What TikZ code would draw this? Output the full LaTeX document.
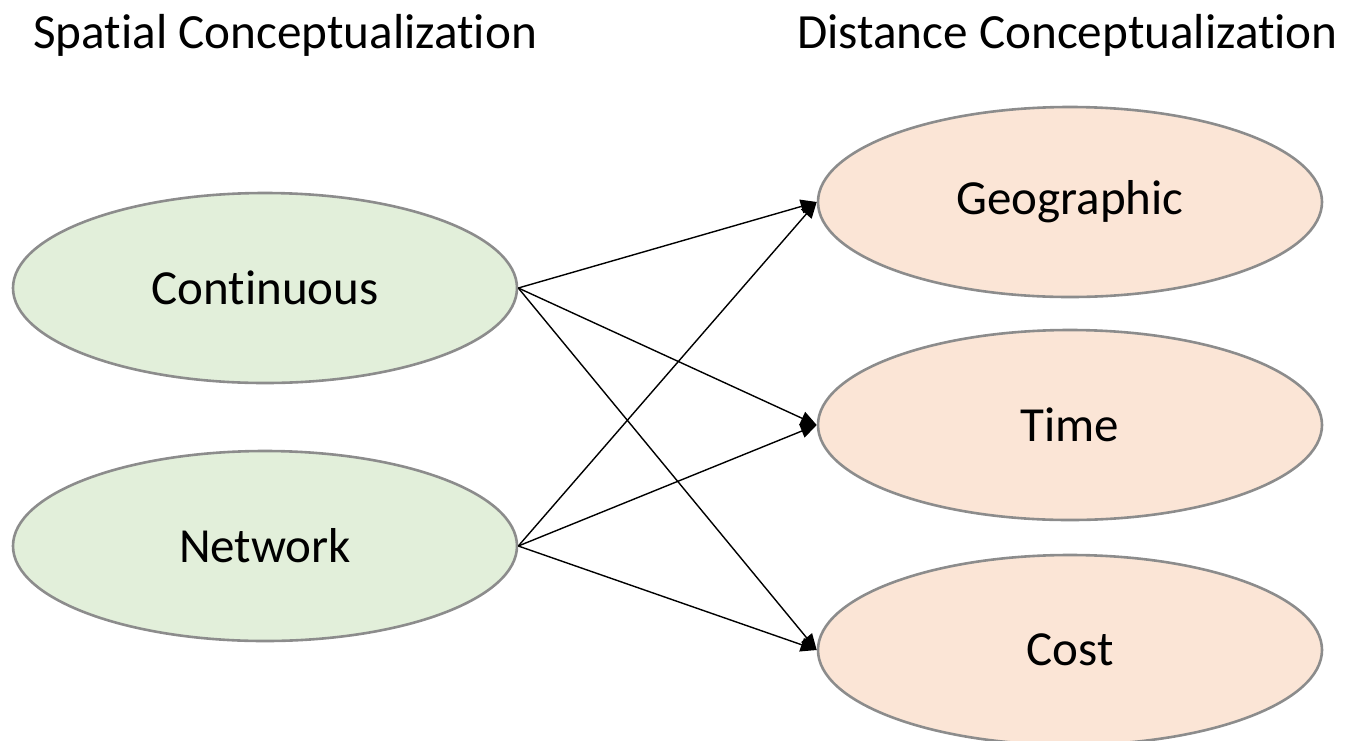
\documentclass[tikz,border=0pt]{standalone}
\usepackage{fontspec}
\setmainfont{Carlito}[Ligatures=NoCommon]
\usetikzlibrary{shapes.geometric,arrows.meta}
\definecolor{spacefill}{HTML}{E2EFDA}
\definecolor{distfill}{HTML}{FBE5D6}
\definecolor{rimgray}{HTML}{8C8C8C}
\tikzset{
  concept/.style={ellipse, draw=rimgray, line width=2.6pt, minimum width=504pt,
    minimum height=190pt, inner sep=0pt, font=\fontsize{49}{56}\selectfont},
  spacebox/.style={concept, fill=spacefill},
  distbox/.style={concept, fill=distfill},
  title/.style={font=\fontsize{49.2}{56}\selectfont, inner sep=0pt, anchor=base west},
  link/.style={-{Triangle[length=16pt,width=14pt]}, line width=1.4pt, black}
}
\begin{document}
\begin{tikzpicture}[x=1pt,y=-1pt]
  \useasboundingbox (0,0) rectangle (1352,740);
  \clip (0,0) rectangle (1352,740);
  \node[title] (sp) at (33,48) {Spatial Conceptualization};
  \node[title] (ds) at (797,48) {Distance Conceptualization};

  \node[spacebox] (cont) at (265,288) {Continuous};
  \node[spacebox] (net)  at (265,546) {Network};
  \node[distbox]  (geo)  at (1070,202) {Geographic};
  \node[distbox]  (time) at (1070,425) {Time};
  \node[distbox]  (cost) at (1070,650) {Cost};

  \foreach \s in {cont,net}
    \foreach \t in {geo,time,cost}
      \draw[link] (\s.east) -- (\t.west);
\end{tikzpicture}
\end{document}
